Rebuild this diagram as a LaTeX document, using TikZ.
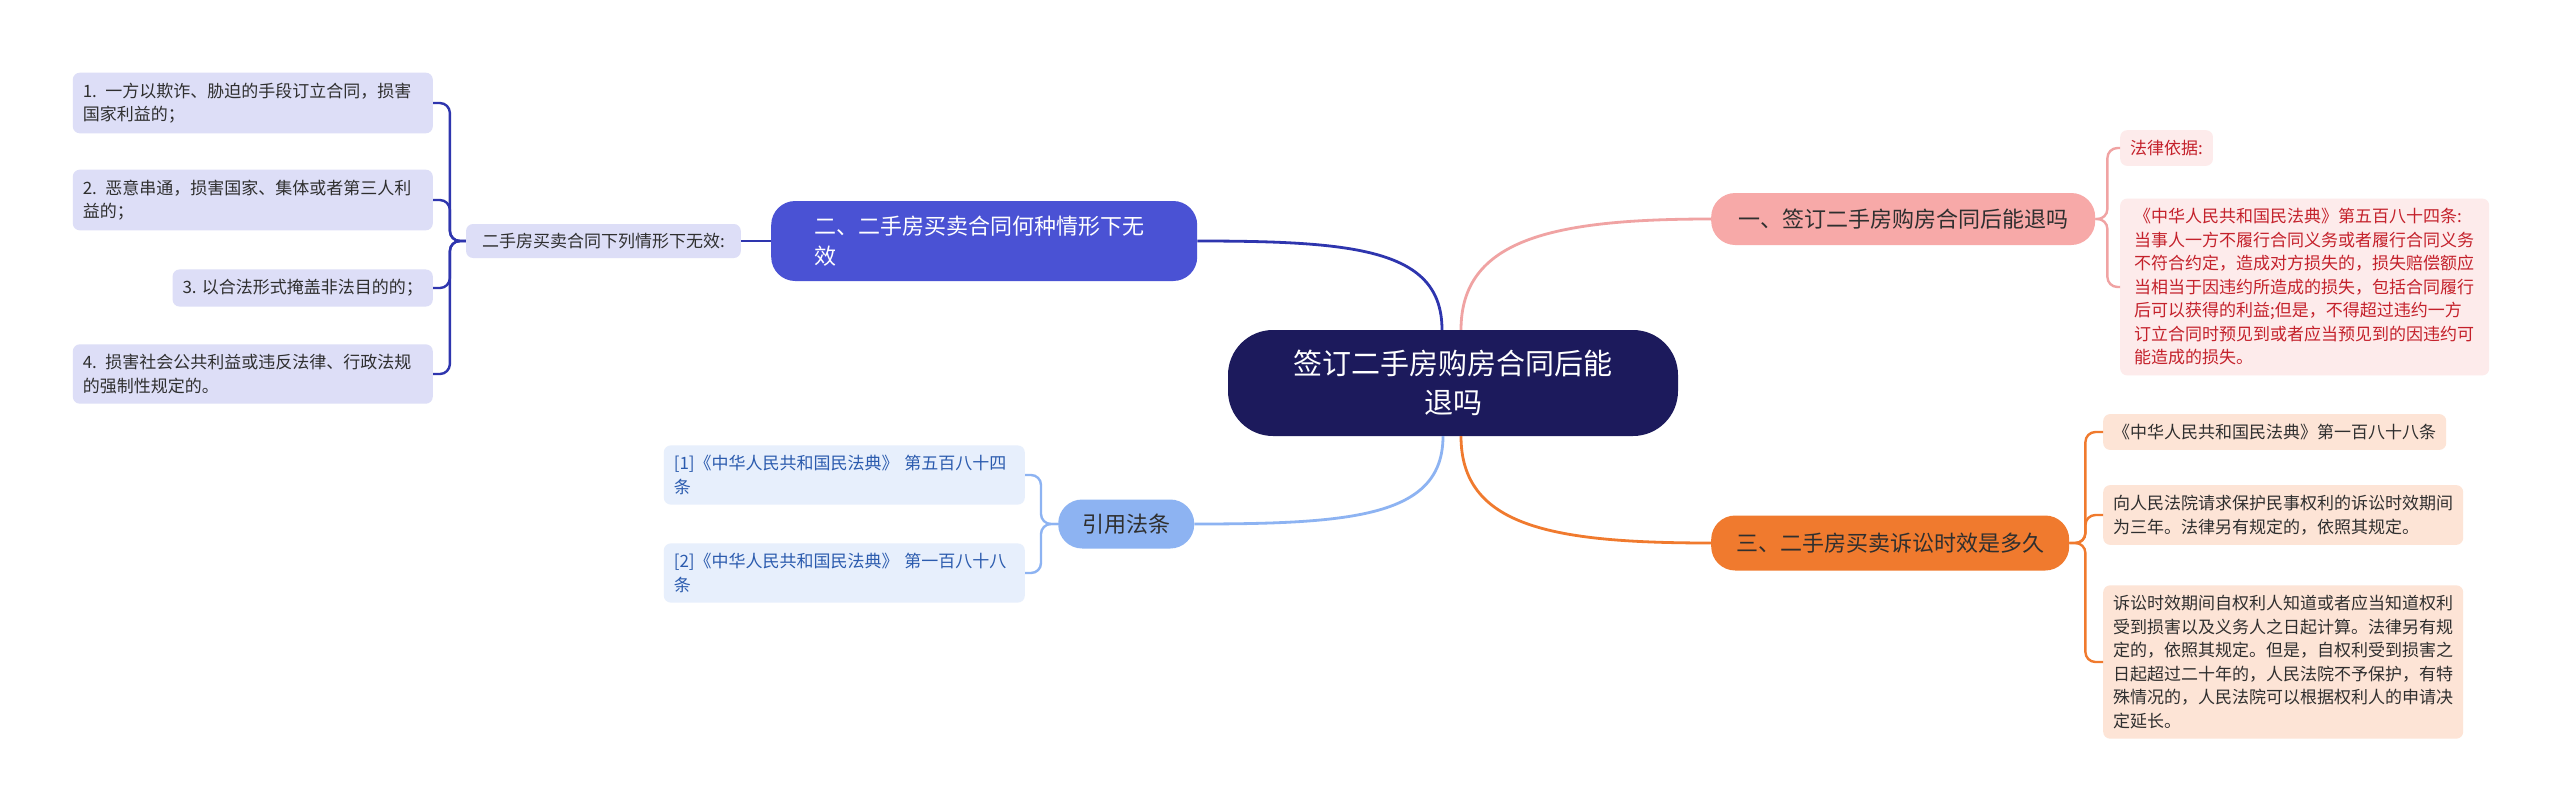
\documentclass[tikz,border=0pt]{standalone}
\usepackage{fontspec}
\setmainfont{Noto Sans CJK SC}
\usetikzlibrary{positioning}

\definecolor{rootfill}{HTML}{1C1A5C}
\definecolor{darktext}{HTML}{2F2F2F}
\definecolor{bluefill}{HTML}{4A52D4}
\definecolor{blueline}{HTML}{2E35AE}
\definecolor{bluelight}{HTML}{DDDEF7}
\definecolor{pinkfill}{HTML}{F7A9A8}
\definecolor{pinkline}{HTML}{F0A3A3}
\definecolor{pinklight}{HTML}{FDEBEB}
\definecolor{pinktext}{HTML}{C4212B}
\definecolor{orangefill}{HTML}{F07A2E}
\definecolor{orangelight}{HTML}{FDE4D6}
\definecolor{skyfill}{HTML}{8DB3F2}
\definecolor{skylight}{HTML}{E7EFFC}
\definecolor{skytext}{HTML}{2B5BAE}

\begin{document}
\begin{tikzpicture}[
    x=1pt, y=-1pt,
    root/.style={
        fill=rootfill,
        text=white,
        rounded corners=45pt,
        minimum width=450pt,
        minimum height=106pt,
        align=center,
        font=\fontsize{29}{39}\selectfont
    },
    topic/.style={
        rounded corners=24pt,
        inner ysep=14pt,
        text=darktext,
        font=\fontsize{22}{30}\selectfont
    },
    leaf/.style={
        rounded corners=7pt,
        inner xsep=10pt,
        inner ysep=10pt,
        align=left,
        text=darktext,
        font=\fontsize{17}{23.5}\selectfont
    },
    link/.style={line width=2.8pt},
    brace/.style={line width=2.4pt, rounded corners=10pt}
]

\path[use as bounding box, fill=white] (0,0) rectangle (2560,809);

% centre
\node[root] (root) at (1453,383) {签订二手房购房合同后能\\退吗};

% main topics
\node[topic, fill=pinkfill, anchor=west, minimum height=52pt, inner xsep=27pt] (refund) at (1711,219) {一、签订二手房购房合同后能退吗};
\node[topic, fill=orangefill, anchor=west, minimum height=55pt, inner xsep=25pt] (limit) at (1711,543) {三、二手房买卖诉讼时效是多久};
\node[topic, fill=bluefill, text=white, anchor=west, text width=340pt, align=left, inner xsep=43pt, minimum height=80pt] (invalid) at (771,241) {二、二手房买卖合同何种情形下无\\效};
\node[topic, fill=skyfill, anchor=west, minimum height=49pt, inner xsep=24pt] (cite) at (1058,524) {引用法条};

% invalid cases
\node[leaf, fill=bluelight, anchor=east, minimum height=34pt, inner xsep=16pt, inner ysep=6pt] (cases) at (741,241) {二手房买卖合同下列情形下无效:};
\node[leaf, fill=bluelight, anchor=east, text width=340pt] (case1) at (433,103) {1. 一方以欺诈、胁迫的手段订立合同，损害\\国家利益的；};
\node[leaf, fill=bluelight, anchor=east, text width=340pt] (case2) at (433,200) {2. 恶意串通，损害国家、集体或者第三人利\\益的；};
\node[leaf, fill=bluelight, anchor=east] (case3) at (433,288) {3. 以合法形式掩盖非法目的的；};
\node[leaf, fill=bluelight, anchor=east, text width=340pt] (case4) at (433,374) {4. 损害社会公共利益或违反法律、行政法规\\的强制性规定的。};

% legal basis
\node[leaf, fill=pinklight, text=pinktext, anchor=west] (basis) at (2120,148) {法律依据:};
\node[leaf, fill=pinklight, text=pinktext, anchor=west, text width=341pt, inner xsep=14pt] (art584) at (2120,287) {《中华人民共和国民法典》第五百八十四条:\\当事人一方不履行合同义务或者履行合同义务\\不符合约定，造成对方损失的，损失赔偿额应\\当相当于因违约所造成的损失，包括合同履行\\后可以获得的利益;但是，不得超过违约一方\\订立合同时预见到或者应当预见到的因违约可\\能造成的损失。};

% limitation period
\node[leaf, fill=orangelight, anchor=west] (art188) at (2103,432) {《中华人民共和国民法典》第一百八十八条};
\node[leaf, fill=orangelight, anchor=west, text width=340pt] (period) at (2103,515) {向人民法院请求保护民事权利的诉讼时效期间\\为三年。法律另有规定的，依照其规定。};
\node[leaf, fill=orangelight, anchor=west, text width=340pt] (start) at (2103,662) {诉讼时效期间自权利人知道或者应当知道权利\\受到损害以及义务人之日起计算。法律另有规\\定的，依照其规定。但是，自权利受到损害之\\日起超过二十年的，人民法院不予保护，有特\\殊情况的，人民法院可以根据权利人的申请决\\定延长。};

% cited articles
\node[leaf, fill=skylight, text=skytext, anchor=east, text width=341pt] (ref1) at (1025,475) {[1]《中华人民共和国民法典》 第五百八十四\\条};
\node[leaf, fill=skylight, text=skytext, anchor=east, text width=341pt] (ref2) at (1025,573) {[2]《中华人民共和国民法典》 第一百八十八\\条};

% centre to topics
\draw[link, blueline] ([xshift=-11pt]root.north) .. controls +(0,-80) and +(160,0) .. (invalid.east);
\draw[link, pinkline] ([xshift=8pt]root.north) .. controls +(0,-90) and +(-160,0) .. (refund.west);
\draw[link, orangefill] ([xshift=8pt]root.south) .. controls +(0,90) and +(-160,0) .. (limit.west);
\draw[link, skyfill] ([xshift=-10pt]root.south) .. controls +(0,80) and +(160,0) .. (cite.east);

% topics to leaves
\draw[link, blueline] (invalid.west) -- (cases.east);
\foreach \c in {case1,case2,case3,case4}
    \draw[brace, blueline] (cases.west) -- ++(-16,0) |- (\c.east);
\foreach \c in {basis,art584}
    \draw[brace, pinkline] (refund.east) -- ++(12,0) |- (\c.west);
\foreach \c in {art188,period,start}
    \draw[brace, orangefill] (limit.east) -- ++(16,0) |- (\c.west);
\foreach \c in {ref1,ref2}
    \draw[brace, skyfill] (cite.west) -- ++(-17,0) |- (\c.east);

\end{tikzpicture}
\end{document}
